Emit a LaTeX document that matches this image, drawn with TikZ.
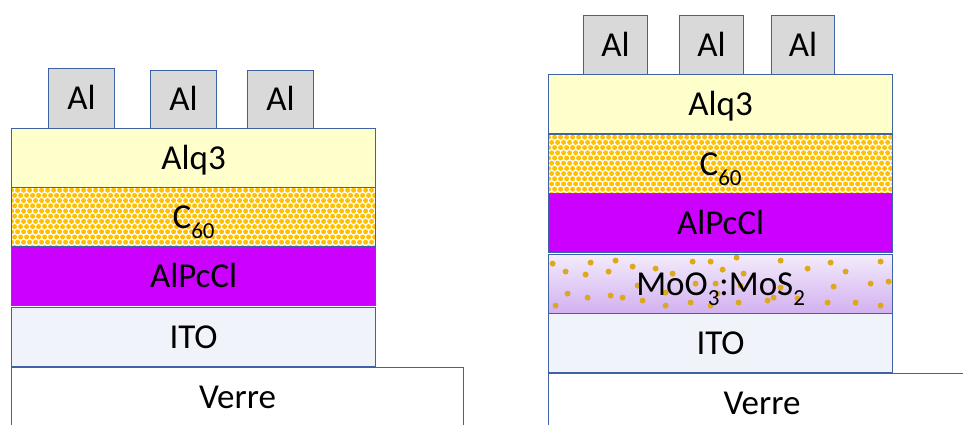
\documentclass[tikz,border=0pt]{standalone}
\usepackage{fontspec}
\setmainfont{Carlito}
\usepackage{xcolor}
\usetikzlibrary{calc}
\definecolor{edge}{RGB}{62,98,165}
\definecolor{algray}{RGB}{217,217,217}
\definecolor{alqfill}{RGB}{255,255,204}
\definecolor{cgold}{RGB}{255,192,0}
\definecolor{pcfill}{RGB}{204,0,255}
\definecolor{itofill}{RGB}{240,243,250}
\definecolor{motop}{RGB}{243,236,251}
\definecolor{mobot}{RGB}{210,176,240}
\definecolor{modot}{RGB}{222,168,28}
\newcommand{\lowidx}[1]{\raisebox{-10pt}{\fontsize{23}{25}\selectfont #1}}
\tikzset{
  txt/.style={font=\fontsize{35}{40}\selectfont, text height=22.5pt, text depth=0pt},
  layer/.style={txt, draw=edge, line width=1.2pt, anchor=north west, inner sep=0pt, minimum width=364pt, minimum height=59pt},
  electrode/.style={txt, draw=edge, line width=1.2pt, fill=algray, anchor=north west, inner sep=0pt, minimum width=66pt, minimum height=59pt},
  glass/.style={txt, text depth=20pt, draw=edge, line width=1pt, fill=white, anchor=north west, inner sep=0pt, minimum height=80pt},
  fullerene/.style={layer, fill=white, path picture={
    \foreach \r in {0,...,11}{
      \pgfmathsetmacro\off{mod(\r,2)*3}
      \foreach \c in {0,...,61}
        \fill[cgold] ($(path picture bounding box.north west)+(\c*6+\off, \r*5.2+2.6)$) circle (2.5pt);
    }}},
  dopedlayer/.style={layer, top color=motop, bottom color=mobot, path picture={
    \foreach \dx/\dy in {4/9,42/8,67/6,84/12,107/14,144/7,162/7,188/3,232/6,259/14,282/8,297/17,332/7,
      17/17,37/20,60/17,124/19,174/15,195/19,340/27,322/29,285/32,232/33,167/29,147/29,89/31,117/38,
      19/39,39/43,62/41,74/43,94/46,142/48,162/51,190/48,219/46,249/44,279/48,307/48,332/51,7/51,
      117/51,169/39,192/31,225/43}
      \fill[modot] ($(path picture bounding box.north west)+(\dx,\dy)$) circle (3pt);
    }}
}

\begin{document}
\begin{tikzpicture}[x=1pt,y=-1pt]
  \clip (0,0) rectangle (963,425);

  % left stack
  \node[glass, minimum width=452pt] (verreL) at (11,367) {Verre};
  \node[layer, fill=itofill] (itoL) at (11,307) {ITO};
  \node[layer, fill=pcfill] (pcL) at (11,246) {AlPcCl};
  \node[fullerene] (cL) at (11,187) {C\lowidx{60}};
  \node[layer, fill=alqfill] (alqL) at (11,128) {Alq3};
  \node[electrode, minimum height=60pt] (alL1) at (48,68) {Al};
  \node[electrode, minimum height=58pt] (alL2) at (150,70) {Al};
  \node[electrode, minimum height=58pt] (alL3) at (247,70) {Al};

  % right stack
  \node[glass, minimum width=427pt] (verreR) at (548,373) {Verre};
  \node[layer, minimum width=344pt, fill=itofill] (itoR) at (548,313) {ITO};
  \node[dopedlayer, minimum width=344pt] (moR) at (548,254) {MoO\lowidx{3}:MoS\lowidx{2}};
  \node[layer, minimum width=344pt, fill=pcfill] (pcR) at (548,193) {AlPcCl};
  \node[fullerene, minimum width=344pt] (cR) at (548,134) {C\lowidx{60}};
  \node[layer, minimum width=344pt, fill=alqfill] (alqR) at (548,74) {Alq3};
  \node[electrode, minimum width=64pt] (alR1) at (583,15) {Al};
  \node[electrode, minimum width=64pt] (alR2) at (679,15) {Al};
  \node[electrode, minimum width=63pt] (alR3) at (771,15) {Al};
\end{tikzpicture}
\end{document}
